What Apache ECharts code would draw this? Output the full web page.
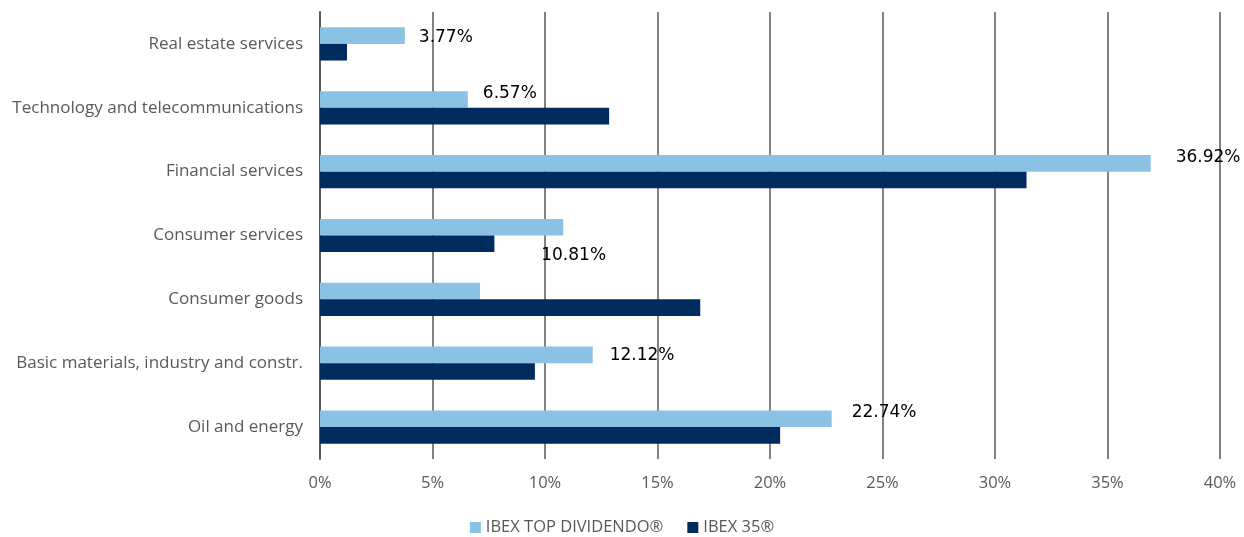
<!DOCTYPE html>
<html>
<head>
<meta charset="utf-8">
<script src="https://cdn.jsdelivr.net/npm/echarts@6/dist/echarts.min.js"></script>
<style>html,body{margin:0;padding:0;background:#fff}#c{width:1244px;height:537px}</style>
</head>
<body>
<div id="c"></div>
<script>
// Categories listed top to bottom
const categories = [
  'Real estate services',
  'Technology and telecommunications',
  'Financial services',
  'Consumer services',
  'Consumer goods',
  'Basic materials, industry and constr.',
  'Oil and energy'
];
const topDividendo = [3.77, 6.57, 36.92, 10.81, 7.11, 12.12, 22.74];
const ibex35 = [1.2, 12.85, 31.4, 7.75, 16.9, 9.55, 20.45];
const labelShown = [true, true, true, true, false, true, true];
const seriesNames = ['IBEX TOP DIVIDENDO\u00ae', 'IBEX 35\u00ae'];
const xTicks = [0, 5, 10, 15, 20, 25, 30, 35, 40];

// layout: label offsets (px) for the value labels
const labelOffsets = [[14, 2], [15, -6], [25, -6], [-22, 28], [0, 0], [17, 1], [20, -6]];

const chart = echarts.init(document.getElementById('c'));
const grey = '#595959';
const uiFont = 'Open Sans';
chart.setOption({
  animation: false,
  grid: { left: 320, right: 24, top: 12, bottom: 78, containLabel: false },
  legend: {
    data: seriesNames,
    bottom: -4,
    left: 'center',
    icon: 'rect',
    itemWidth: 11,
    itemHeight: 11,
    itemGap: 24,
    itemStyle: { borderWidth: 0 },
    textStyle: { color: grey, fontFamily: uiFont, fontSize: 16.5 }
  },
  xAxis: {
    type: 'value',
    min: 0,
    max: 40,
    interval: 5,
    axisLine: { show: false },
    axisTick: { show: false },
    splitLine: { show: true, lineStyle: { color: grey, width: 1.5 } },
    axisLabel: {
      color: grey, fontFamily: uiFont, fontSize: 16.5, margin: 16,
      formatter: v => xTicks.includes(v) ? v + '%' : ''
    }
  },
  yAxis: {
    type: 'category',
    data: categories,
    inverse: true,
    axisLine: { show: true, lineStyle: { color: grey, width: 2 } },
    axisTick: { show: false },
    axisLabel: { color: grey, fontFamily: uiFont, fontSize: 17, margin: 17 }
  },
  series: [
    {
      name: seriesNames[0],
      type: 'bar',
      data: topDividendo.map((v, i) => ({
        value: v,
        label: {
          show: labelShown[i],
          position: 'right',
          distance: 0,
          offset: labelOffsets[i]
        }
      })),
      itemStyle: { color: '#8BC1E3' },
      barGap: '0%',
      barCategoryGap: '48%',
      label: {
        color: '#000',
        fontFamily: 'DejaVu Sans',
        fontSize: 17,
        formatter: p => p.value.toFixed(2) + '%'
      }
    },
    {
      name: seriesNames[1],
      type: 'bar',
      data: ibex35,
      itemStyle: { color: '#002B5E' },
      barGap: '0%',
      barCategoryGap: '48%'
    }
  ]
});
</script>
</body>
</html>
